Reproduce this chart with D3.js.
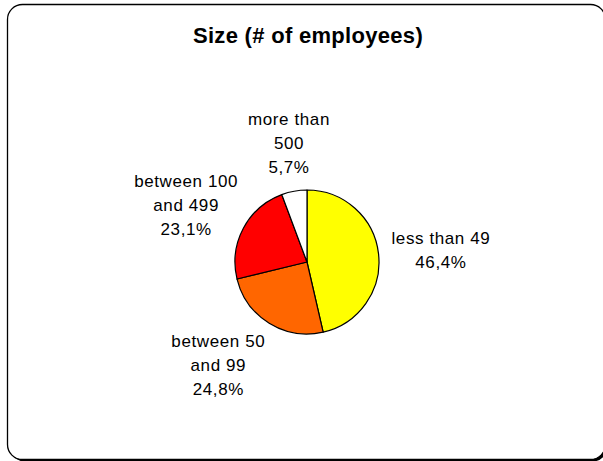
<!DOCTYPE html>
<html>
<head>
<meta charset="utf-8">
<script src="https://cdn.jsdelivr.net/npm/d3@7"></script>
<style>
  html, body { margin: 0; padding: 0; background: #fff; }
  svg { display: block; }
  text { font-family: "Liberation Sans", Arial, Helvetica, sans-serif; fill: #000; }
</style>
</head>
<body>
<svg id="chart" width="603" height="461"></svg>
<script>
// Company size breakdown (share of respondents, %)
const categories = ["less than 49", "between 50 and 99", "between 100 and 499", "more than 500"];
const labelLines = [
  ["less than 49"],
  ["between 50", "and 99"],
  ["between 100", "and 499"],
  ["more than", "500"]
];
const shares = [46.4, 24.8, 23.1, 5.7];
const sliceColors = ["#FFFF00", "#FF6600", "#FF0000", "#FFFFFF"];
const title = "Size (# of employees)";

const svg = d3.select("#chart");

// Rounded frame with a drop shadow
const frame = { x: 7.5, y: 4.5, w: 598, h: 455, rx: 15 };
svg.append("rect")
  .attr("x", frame.x + 2).attr("y", frame.y + 2)
  .attr("width", frame.w).attr("height", frame.h)
  .attr("rx", frame.rx).attr("ry", frame.rx)
  .attr("fill", "#000");
svg.append("rect")
  .attr("x", frame.x).attr("y", frame.y)
  .attr("width", frame.w).attr("height", frame.h)
  .attr("rx", frame.rx).attr("ry", frame.rx)
  .attr("fill", "#fff")
  .attr("stroke", "#000")
  .attr("stroke-width", 1.3);

svg.append("text")
  .attr("x", 308).attr("y", 43)
  .attr("text-anchor", "middle")
  .style("font-size", "22px")
  .style("font-weight", "bold")
  .style("letter-spacing", "0.3px")
  .text(title);

const cx = 307, cy = 262, r = 72;
const fmt = v => d3.format(".1f")(v).replace(".", ",") + "%";

const pie = d3.pie().sort(null).value(d => d);
const arcs = pie(shares);
const arc = d3.arc().innerRadius(0).outerRadius(r);

const g = svg.append("g").attr("transform", `translate(${cx},${cy})`);
g.selectAll("path.slice")
  .data(arcs)
  .enter().append("path")
  .attr("class", "slice")
  .attr("d", arc)
  .attr("fill", (d, i) => sliceColors[i])
  .attr("stroke", "#000")
  .attr("stroke-width", 1.2)
  .attr("stroke-linejoin", "round");

// Labels outside each slice: anchor point on an outer ring, text block pushed outward
const labelR = 85, lineH = 24, fs = 17;
const ramp = v => Math.sign(v) * Math.min(1, Math.max(0, (Math.abs(v) - 0.15) * 2.5));

const labels = g.selectAll("g.lbl")
  .data(arcs)
  .enter().append("g")
  .attr("class", "lbl");

labels.each(function(d, i) {
  const lines = labelLines[i].concat([fmt(shares[i])]);
  const grp = d3.select(this);
  const t = grp.append("text")
    .attr("text-anchor", "middle")
    .style("font-size", fs + "px")
    .style("letter-spacing", "0.6px");
  lines.forEach((ln, k) => {
    t.append("tspan")
      .attr("x", 0)
      .attr("y", 18 + k * lineH)
      .text(ln);
  });
  const w = t.node().getBBox().width;
  const h = lines.length * lineH;
  const a = (d.startAngle + d.endAngle) / 2;
  const s = Math.sin(a), c = Math.cos(a);
  const px = labelR * s, py = -labelR * c;
  const bx = px + ramp(s) * w / 2 * (Math.abs(s) > 0.8 && s < 0 ? 0.88 : 1);
  const by = py - c * h / 2;
  grp.attr("transform", `translate(${bx},${by - h / 2})`);
});
</script>
</body>
</html>
